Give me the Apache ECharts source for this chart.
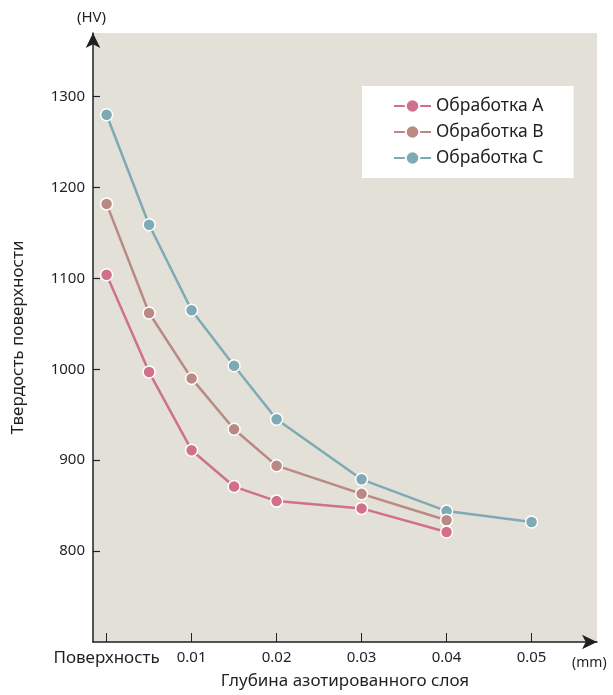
<!DOCTYPE html>
<html>
<head>
<meta charset="utf-8">
<script src="https://cdn.jsdelivr.net/npm/echarts@6/dist/echarts.min.js"></script>
<style>
  html, body { margin: 0; padding: 0; background: #fff; }
  #chart { width: 613px; height: 695px; }
</style>
</head>
<body>
<div id="chart"></div>
<script>
// depth, mm (0 = surface)
const depthA = [0, 0.005, 0.01, 0.015, 0.02, 0.03, 0.04];
const depthB = [0, 0.005, 0.01, 0.015, 0.02, 0.03, 0.04];
const depthC = [0, 0.005, 0.01, 0.015, 0.02, 0.03, 0.04, 0.05];

// hardness, HV
const hardA = [1104, 997, 911, 871, 855, 847, 821];
const hardB = [1182, 1062, 990, 934, 894, 863, 834];
const hardC = [1280, 1159, 1065, 1004, 945, 879, 844, 832];

const seriesNames = ['Обработка A', 'Обработка B', 'Обработка C'];
const seriesColors = ['#d0708a', '#b98983', '#7eaab5'];

const xTicks = [0, 0.01, 0.02, 0.03, 0.04, 0.05];
const xTickLabels = ['Поверхность', '0.01', '0.02', '0.03', '0.04', '0.05'];
const yTicks = [800, 900, 1000, 1100, 1200, 1300];

const font = '"Noto Sans", "Open Sans", sans-serif';
const ink = '#231f20';

const pairs = (xs, ys) => xs.map((x, i) => [x, ys[i]]);
const allData = [pairs(depthA, hardA), pairs(depthB, hardB), pairs(depthC, hardC)];

const chart = echarts.init(document.getElementById('chart'), null, { renderer: 'canvas' });

const gridBox = { left: 93, right: 16, top: 33, bottom: 53 };

chart.setOption({
    animation: false,
    textStyle: { fontFamily: font, color: ink },
    grid: {
        left: gridBox.left, right: gridBox.right, top: gridBox.top, bottom: gridBox.bottom,
        outerBoundsMode: 'none',
        containLabel: false,
        show: false
    },
    legend: {
        orient: 'vertical',
        left: 362,
        top: 86,
        backgroundColor: '#ffffff',
        padding: [11, 30, 11, 31],
        itemGap: 8,
        itemWidth: 37,
        itemHeight: 17,
        textStyle: { fontFamily: font, fontSize: 17.5, color: ink },
        data: seriesNames
    },
    xAxis: {
        type: 'value',
        min: -0.0016,
        max: 0.0577,
        name: 'Глубина азотированного слоя',
        nameLocation: 'middle',
        nameGap: 31,
        nameTextStyle: { fontFamily: font, fontSize: 17, color: ink },
        axisLine: {
            show: true,
            onZero: false,
            lineStyle: { color: ink, width: 1.5 },
            symbol: ['none', 'arrow'],
            symbolSize: [11, 15]
        },
        axisTick: {
            show: true, inside: true, length: 9,
            lineStyle: { color: ink, width: 1 },
            customValues: xTicks
        },
        axisLabel: {
            fontFamily: font, fontSize: 15, color: ink, margin: 8,
            customValues: xTicks,
            formatter: v => {
                const i = xTicks.findIndex(t => Math.abs(t - v) < 1e-9);
                if (i < 0) return '';
                return i === 0 ? '{s|' + xTickLabels[i] + '}' : xTickLabels[i];
            },
            rich: {
                s: { fontFamily: font, fontSize: 17, color: ink }
            }
        },
        splitLine: { show: false }
    },
    yAxis: {
        type: 'value',
        min: 700,
        max: 1370,
        name: 'Твердость поверхности',
        nameLocation: 'middle',
        nameGap: 66,
        nameTextStyle: { fontFamily: font, fontSize: 17, color: ink },
        axisLine: {
            show: true,
            onZero: false,
            lineStyle: { color: ink, width: 1.5 },
            symbol: ['none', 'arrow'],
            symbolSize: [11, 15]
        },
        axisTick: {
            show: true, inside: true, length: 7,
            lineStyle: { color: ink, width: 1.2 },
            customValues: yTicks
        },
        axisLabel: {
            fontFamily: font, fontSize: 15, color: ink, margin: 8,
            customValues: yTicks,
            formatter: v => String(v)
        },
        splitLine: { show: false }
    },
    graphic: [
        {
            type: 'rect', left: gridBox.left, top: gridBox.top, z: -10,
            shape: { width: 613 - gridBox.left - gridBox.right, height: 695 - gridBox.top - gridBox.bottom },
            style: { fill: '#e3e0d8' },
            silent: true
        },
        {
            type: 'text', left: 77, top: 10,
            style: { text: '(HV)', font: '15px ' + font, fill: ink }
        },
        {
            type: 'text', left: 572, top: 656,
            style: { text: '(mm)', font: '14px ' + font, fill: ink }
        }
    ],
    series: seriesNames.map((name, i) => ({
        name: name,
        type: 'line',
        data: allData[i],
        symbol: 'circle',
        symbolSize: 12,
        lineStyle: { color: seriesColors[i], width: 2.5 },
        itemStyle: { color: seriesColors[i], borderColor: '#ffffff', borderWidth: 1.5 },
        z: 3 - i
    }))
});
</script>
</body>
</html>
